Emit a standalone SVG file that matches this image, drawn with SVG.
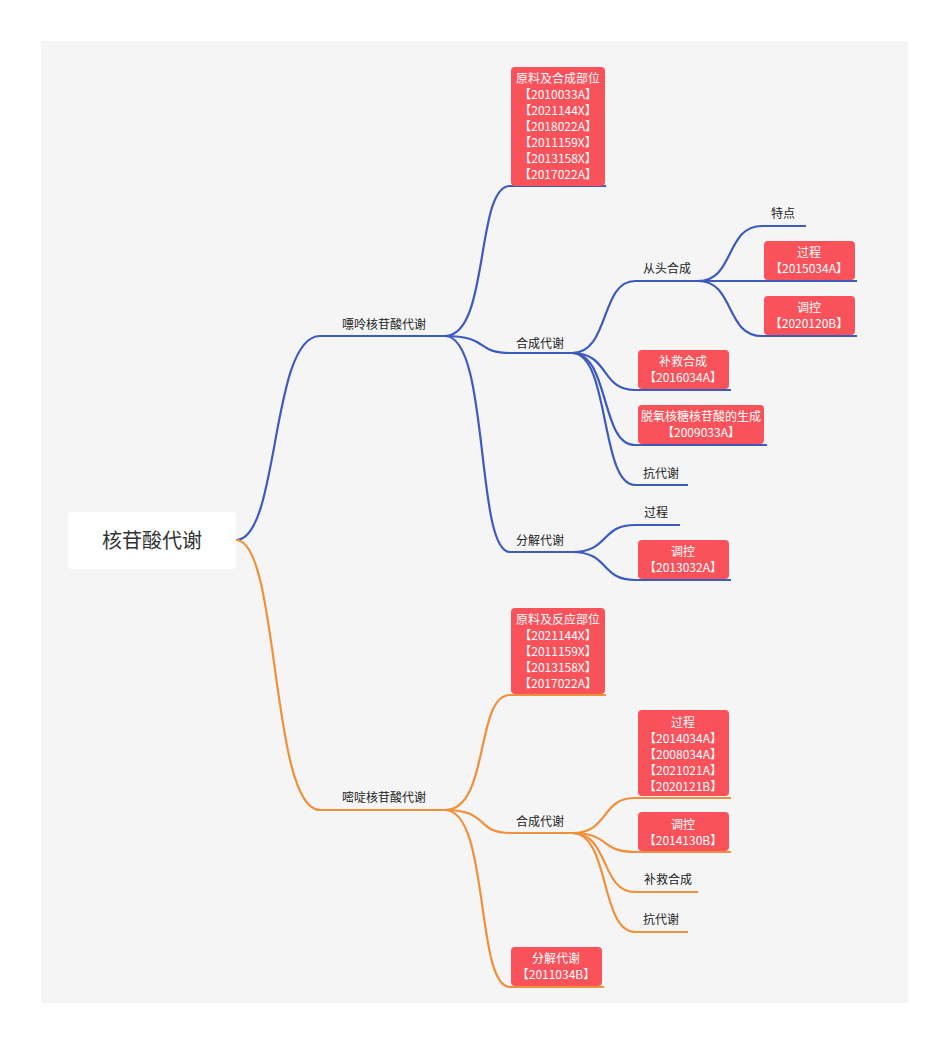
<svg xmlns="http://www.w3.org/2000/svg" width="950" height="1044" viewBox="0 0 950 1044">
<style>
text{font-family:"Noto Sans CJK SC","Noto Sans",sans-serif;text-anchor:middle}
.l{font-size:12px;fill:#222}
.b{font-size:12px;fill:#fff}
.box{fill:#f9525b}
.bl{fill:none;stroke:#3d5bbf;stroke-width:2.2}
.or{fill:none;stroke:#f0903a;stroke-width:2.2}
</style>
<rect x="41" y="41" width="867" height="962" fill="#f5f5f5"/>
<g id="connectors">
<path class="bl" d="M236 540 C280 540 270 336 320 336 H445"/>
<path class="bl" d="M445 336 C490 336 475 186 510 186 H606"/>
<path class="bl" d="M445 336 C490 336 475 353 510 353 H572"/>
<path class="bl" d="M445 336 C490 336 475 552 510 552 H572"/>
<path class="bl" d="M572 353 C610 353 600 281 635 281 H698"/>
<path class="bl" d="M698 281 C735 281 725 226 762 226 H806"/>
<path class="bl" d="M698 281 H857"/>
<path class="bl" d="M698 281 C735 281 725 336 762 336 H857"/>
<path class="bl" d="M572 353 C610 353 600 390 635 390 H731"/>
<path class="bl" d="M572 353 C610 353 600 445 635 445 H767"/>
<path class="bl" d="M572 353 C610 353 600 485 635 485 H688"/>
<path class="bl" d="M572 552 C610 552 600 525 635 525 H680"/>
<path class="bl" d="M572 552 C610 552 600 580 635 580 H731"/>
<path class="or" d="M236 540 C280 540 270 810 320 810 H445"/>
<path class="or" d="M445 810 C490 810 475 695 510 695 H606"/>
<path class="or" d="M445 810 C490 810 475 833 510 833 H572"/>
<path class="or" d="M445 810 C490 810 475 987 510 987 H604"/>
<path class="or" d="M572 833 C610 833 600 798 635 798 H731"/>
<path class="or" d="M572 833 C610 833 600 852 635 852 H731"/>
<path class="or" d="M572 833 C610 833 600 892 635 892 H698"/>
<path class="or" d="M572 833 C610 833 600 932 635 932 H688"/>
</g>
<g id="root"><rect x="68" y="512" width="168" height="57" rx="4" fill="#fff"/><text x="152" y="548" font-size="20" fill="#333">核苷酸代谢</text></g>
<g id="n1"><text class="l" x="384" y="329">嘌呤核苷酸代谢</text></g>
<g id="n2"><rect class="box" x="511" y="67" width="94" height="119" rx="4"/>
<text class="b" x="558" y="83">原料及合成部位</text><text class="b" x="558" y="99">【2010033A】</text><text class="b" x="558" y="115">【2021144X】</text><text class="b" x="558" y="131">【2018022A】</text><text class="b" x="558" y="147">【2011159X】</text><text class="b" x="558" y="163">【2013158X】</text><text class="b" x="558" y="179">【2017022A】</text></g>
<g id="n3"><text class="l" x="540" y="348">合成代谢</text></g>
<g id="n4"><text class="l" x="667" y="273">从头合成</text></g>
<g id="n5"><text class="l" x="783" y="218">特点</text></g>
<g id="n6"><rect class="box" x="764" y="241" width="91" height="39" rx="4"/><text class="b" x="809" y="257">过程</text><text class="b" x="809" y="273">【2015034A】</text></g>
<g id="n7"><rect class="box" x="764" y="296" width="91" height="39" rx="4"/><text class="b" x="809" y="312">调控</text><text class="b" x="809" y="328">【2020120B】</text></g>
<g id="n8"><rect class="box" x="638" y="350" width="91" height="39" rx="4"/><text class="b" x="683" y="366">补救合成</text><text class="b" x="683" y="382">【2016034A】</text></g>
<g id="n9"><rect class="box" x="638" y="405" width="126" height="39" rx="4"/><text class="b" x="701" y="421">脱氧核糖核苷酸的生成</text><text class="b" x="701" y="437">【2009033A】</text></g>
<g id="n10"><text class="l" x="661" y="478">抗代谢</text></g>
<g id="n11"><text class="l" x="540" y="545">分解代谢</text></g>
<g id="n12"><text class="l" x="656" y="517">过程</text></g>
<g id="n13"><rect class="box" x="638" y="540" width="91" height="39" rx="4"/><text class="b" x="683" y="556">调控</text><text class="b" x="683" y="572">【2013032A】</text></g>
<g id="n14"><text class="l" x="384" y="802">嘧啶核苷酸代谢</text></g>
<g id="n15"><rect class="box" x="511" y="608" width="94" height="86" rx="4"/>
<text class="b" x="558" y="624">原料及反应部位</text><text class="b" x="558" y="640">【2021144X】</text><text class="b" x="558" y="656">【2011159X】</text><text class="b" x="558" y="672">【2013158X】</text><text class="b" x="558" y="688">【2017022A】</text></g>
<g id="n16"><text class="l" x="540" y="826">合成代谢</text></g>
<g id="n17"><rect class="box" x="638" y="710" width="91" height="86" rx="4"/>
<text class="b" x="683" y="727">过程</text><text class="b" x="683" y="743">【2014034A】</text><text class="b" x="683" y="759">【2008034A】</text><text class="b" x="683" y="775">【2021021A】</text><text class="b" x="683" y="791">【2020121B】</text></g>
<g id="n18"><rect class="box" x="638" y="812" width="91" height="39" rx="4"/><text class="b" x="683" y="829">调控</text><text class="b" x="683" y="845">【2014130B】</text></g>
<g id="n19"><text class="l" x="668" y="884">补救合成</text></g>
<g id="n20"><text class="l" x="661" y="924">抗代谢</text></g>
<g id="n21"><rect class="box" x="511" y="947" width="91" height="39" rx="4"/><text class="b" x="556" y="963">分解代谢</text><text class="b" x="556" y="979">【2011034B】</text></g>
</svg>
